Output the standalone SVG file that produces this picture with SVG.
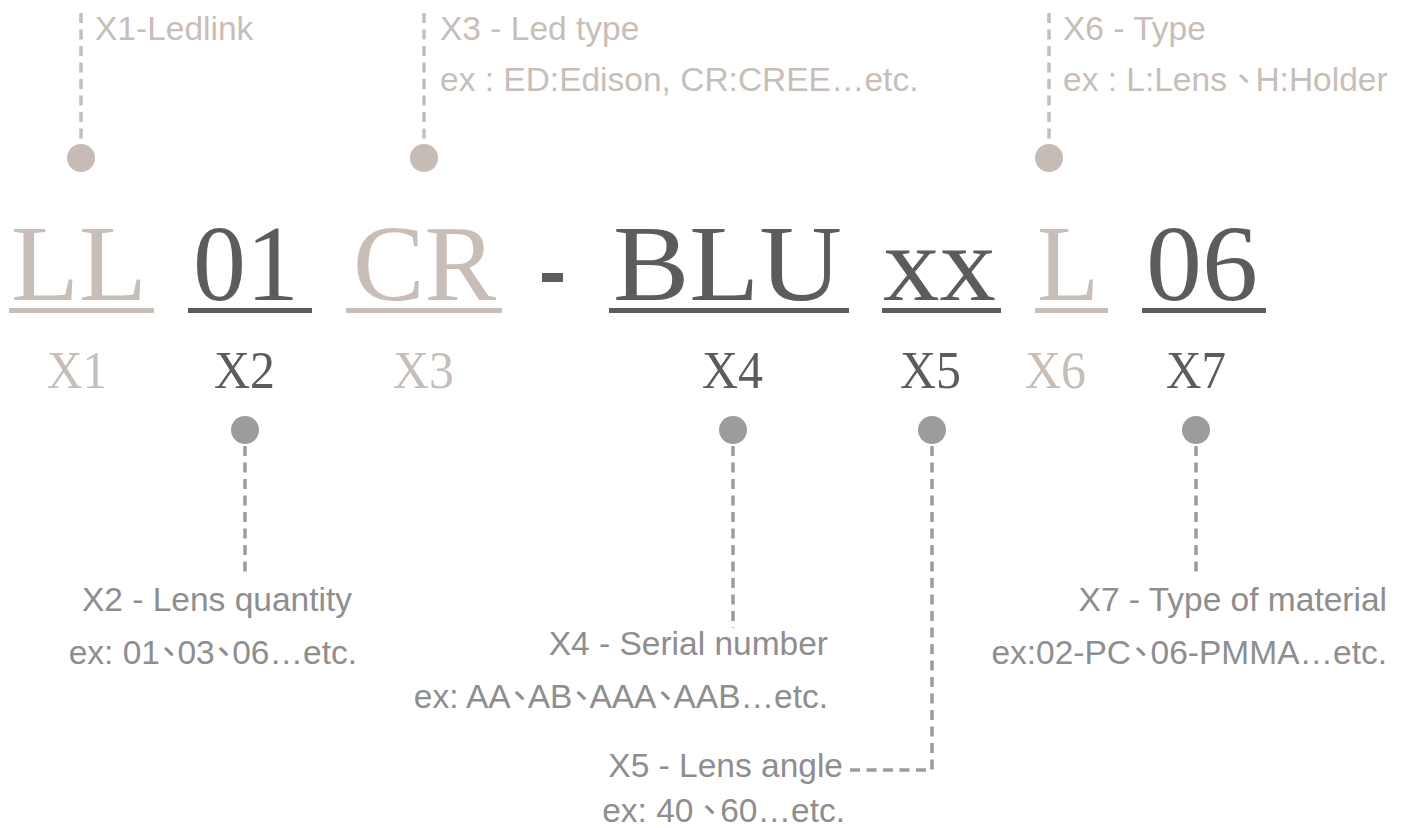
<svg xmlns="http://www.w3.org/2000/svg" width="1407" height="828" viewBox="0 0 1407 828">
<style>
.big{font-family:"Liberation Serif","Times New Roman",serif;font-size:107px}
.lbl{font-family:"Liberation Serif","Times New Roman",serif;font-size:52px}
.beige{fill:#c8beb7}
.dark{fill:#5b5d5c}
.t{font-family:"Liberation Sans",Arial,"Noto Sans CJK TC",sans-serif;font-size:33.5px}
.tt{fill:#c8beb7}
.bt{fill:#8e8e8e}
.dl{stroke-width:3.5;fill:none;stroke-dasharray:10 6.5}
.dlt{stroke:#c8beb7}
.dlb{stroke:#9c9c9c}
.dt{fill:#c6bcb5}
.db{fill:#9c9c9c}
</style>
<rect width="1407" height="828" fill="#ffffff"/>
<g id="connectors">
<line class="dl dlt" x1="81" y1="13" x2="81" y2="143"/>
<line class="dl dlt" x1="424" y1="13" x2="424" y2="143"/>
<line class="dl dlt" x1="1049" y1="13" x2="1049" y2="143"/>
<line class="dl dlb" x1="245" y1="446" x2="245" y2="576"/>
<line class="dl dlb" x1="733" y1="446" x2="733" y2="628"/>
<polyline class="dl dlb" points="932,446 932,770 848,770"/>
<line class="dl dlb" x1="1196" y1="446" x2="1196" y2="576"/>
</g>
<g id="code">
<g id="seg-X1"><text class="big beige" x="11" y="300" textLength="136" lengthAdjust="spacingAndGlyphs">LL</text><rect class="beige" x="9" y="308" width="145" height="5"/><text class="lbl beige" x="47" y="388" textLength="60" lengthAdjust="spacingAndGlyphs">X1</text></g>
<g id="seg-X2"><text class="big dark" x="193" y="300" textLength="106" lengthAdjust="spacingAndGlyphs">01</text><rect class="dark" x="188" y="308" width="124" height="5"/><text class="lbl dark" x="214" y="388" textLength="61" lengthAdjust="spacingAndGlyphs">X2</text></g>
<g id="seg-X3"><text class="big beige" x="353" y="300" textLength="143" lengthAdjust="spacingAndGlyphs">CR</text><rect class="beige" x="346" y="308" width="156" height="5"/><text class="lbl beige" x="393" y="388" textLength="61" lengthAdjust="spacingAndGlyphs">X3</text></g>
<rect id="dash" class="dark" x="542" y="273" width="21" height="9"/>
<g id="seg-X4"><text class="big dark" x="613" y="300" textLength="229" lengthAdjust="spacingAndGlyphs">BLU</text><rect class="dark" x="609" y="308" width="240" height="5"/><text class="lbl dark" x="702" y="388" textLength="61" lengthAdjust="spacingAndGlyphs">X4</text></g>
<g id="seg-X5"><text class="big dark" x="883" y="300" textLength="113" lengthAdjust="spacingAndGlyphs">xx</text><rect class="dark" x="882" y="308" width="119" height="5"/><text class="lbl dark" x="900" y="388" textLength="61" lengthAdjust="spacingAndGlyphs">X5</text></g>
<g id="seg-X6"><text class="big beige" x="1037" y="300" textLength="62" lengthAdjust="spacingAndGlyphs">L</text><rect class="beige" x="1035" y="308" width="73" height="5"/><text class="lbl beige" x="1025" y="388" textLength="61" lengthAdjust="spacingAndGlyphs">X6</text></g>
<g id="seg-X7"><text class="big dark" x="1146" y="300" textLength="112" lengthAdjust="spacingAndGlyphs">06</text><rect class="dark" x="1142" y="308" width="124" height="5"/><text class="lbl dark" x="1166" y="388" textLength="60" lengthAdjust="spacingAndGlyphs">X7</text></g>
</g>
<g id="dots">
<circle class="dt" cx="81" cy="158" r="14"/>
<circle class="dt" cx="424" cy="158" r="14"/>
<circle class="dt" cx="1049" cy="158" r="14"/>
<circle class="db" cx="245" cy="430" r="14"/>
<circle class="db" cx="733" cy="430" r="14"/>
<circle class="db" cx="932" cy="430" r="14"/>
<circle class="db" cx="1196" cy="430" r="14"/>
</g>
<g id="note-X1"><text class="t tt" x="95" y="40">X1-Ledlink</text></g>
<g id="note-X3"><text class="t tt" x="440" y="40">X3 - Led type</text><text class="t tt" x="440" y="91">ex : ED:Edison, CR:CREE…etc.</text></g>
<g id="note-X6"><text class="t tt" x="1063" y="40">X6 - Type</text><text class="t tt" x="1063" y="91">ex : L:Lens<tspan dx="0">、</tspan><tspan dx="-5">H:Holder</tspan></text></g>
<g id="note-X2" text-anchor="end"><text class="t bt" x="352" y="611">X2 - Lens quantity</text><text class="t bt" x="357" y="664">ex: 01<tspan dx="-8">、</tspan><tspan dx="-8">03</tspan><tspan dx="-8">、</tspan><tspan dx="-8">06</tspan>…etc.</text></g>
<g id="note-X4" text-anchor="end"><text class="t bt" x="828" y="655">X4 - Serial number</text><text class="t bt" x="828" y="708">ex: AA<tspan dx="-8">、</tspan><tspan dx="-8.5">AB</tspan><tspan dx="-8">、</tspan><tspan dx="-8.5">AAA</tspan><tspan dx="-8">、</tspan><tspan dx="-8.5">AAB</tspan>…etc.</text></g>
<g id="note-X5" text-anchor="end"><text class="t bt" x="843" y="777">X5 - Lens angle</text><text class="t bt" x="845" y="822">ex: 40 <tspan dx="-10">、</tspan><tspan dx="-6">60</tspan>…etc.</text></g>
<g id="note-X7" text-anchor="end"><text class="t bt" x="1387" y="611">X7 - Type of material</text><text class="t bt" x="1387" y="664">ex:02-PC<tspan dx="-7">、</tspan><tspan dx="-7">06-PMMA</tspan>…etc.</text></g>
</svg>
